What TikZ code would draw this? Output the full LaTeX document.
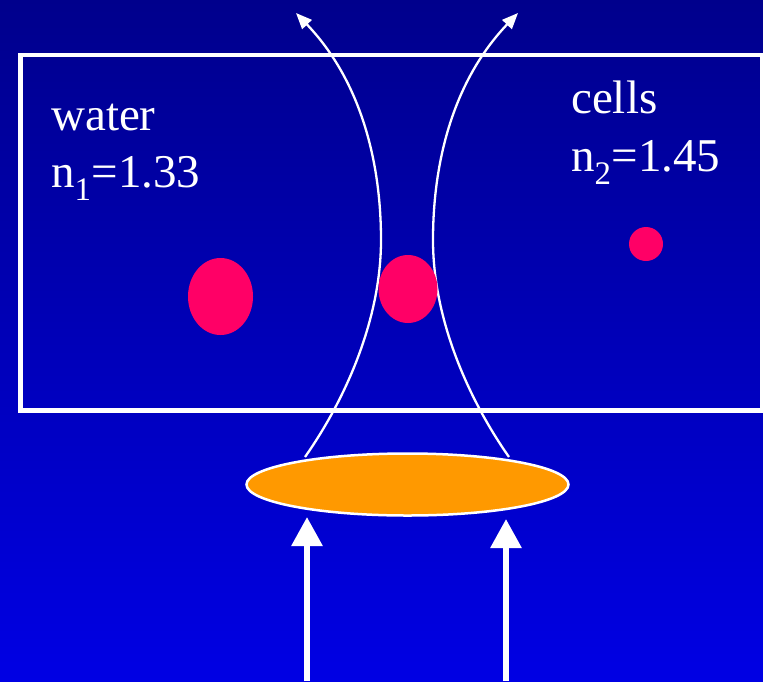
\documentclass[tikz,border=0pt]{standalone}
\usepackage{fontspec}
\setmainfont{Liberation Serif}
\usetikzlibrary{arrows.meta,shapes.geometric}
\definecolor{bgtop}{RGB}{0,0,140}
\definecolor{bgbot}{RGB}{0,0,228}
\definecolor{dotred}{RGB}{255,0,102}
\definecolor{lensorange}{RGB}{255,153,0}
\tikzset{
  beam/.style={white,line width=2.3pt,-{Triangle[length=16pt,width=13pt]}},
  bigarrow/.style={white,line width=6pt,-{Triangle[length=29pt,width=30pt]}},
  label/.style={text=white,font=\fontsize{47}{56}\selectfont,inner sep=0pt,anchor=base west},
  dot/.style={fill=dotred,draw=none,ellipse,inner sep=0pt},
}
\begin{document}
\begin{tikzpicture}[x=1pt,y=-1pt]
\useasboundingbox (0,0) rectangle (763,681);
\shade[top color=bgtop,bottom color=bgbot] (0,0) rectangle (763,681);
% sample box
\draw[white,line width=4.5pt] (20.5,55) rectangle (762,410.5);
% beam outlines
\coordinate (l0) at (305,457);
\coordinate (lw) at (381,240);
\coordinate (l1) at (296,13);
\coordinate (r0) at (509,457);
\coordinate (rw) at (433,240);
\coordinate (r1) at (518,13);
\draw[beam] (l0) .. controls (345,400) and (381,320) .. (lw) .. controls (381,160) and (360,80) .. (l1);
\draw[beam] (r0) .. controls (469,400) and (433,320) .. (rw) .. controls (433,160) and (454,80) .. (r1);
% lens
\node[ellipse,draw=white,line width=2.5pt,fill=lensorange,minimum width=322pt,minimum height=62pt,inner sep=0pt] (lens) at (407.5,484.5) {};
% cells
\node[dot,minimum width=65pt,minimum height=77pt] (c1) at (220.5,296.5) {};
\node[dot,minimum width=59pt,minimum height=68pt] (c2) at (408,289) {};
\node[dot,minimum width=34pt,minimum height=34pt] (c3) at (646,244) {};
% labels
\node[label] (water) at (51,130) {water};
\node[label] (n1) at (51,187) {n\textsubscript{1}=1.33};
\node[label] (cells) at (571,113) {cells};
\node[label] (n2) at (571,171) {n\textsubscript{2}=1.45};
% incoming light
\coordinate (a0) at (307,681);
\coordinate (a1) at (307,517);
\coordinate (b0) at (506,681);
\coordinate (b1) at (506,519);
\draw[bigarrow] (a0) -- (a1);
\draw[bigarrow] (b0) -- (b1);
\end{tikzpicture}
\end{document}
